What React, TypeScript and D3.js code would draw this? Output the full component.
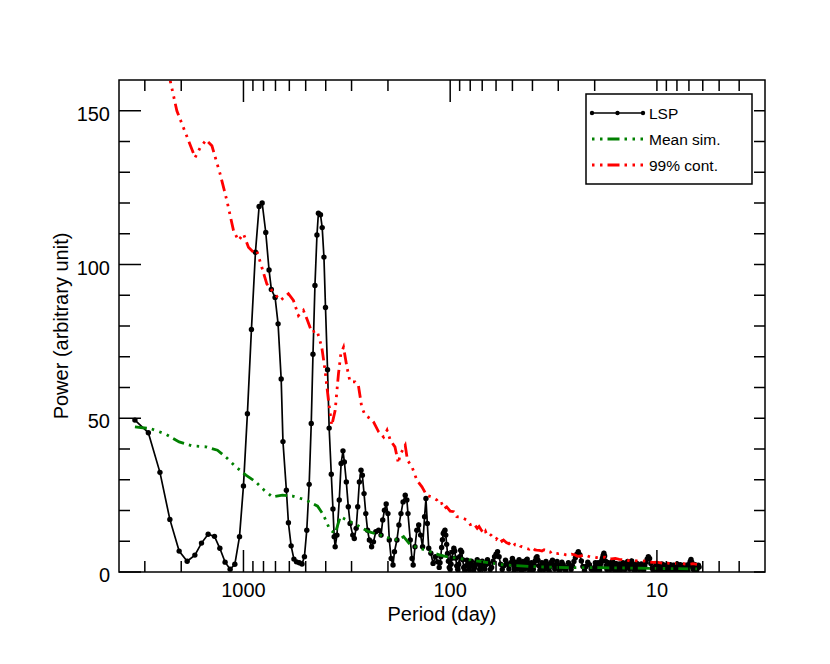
import React, { useEffect, useRef } from 'react';
import * as d3 from 'd3';

// Lomb-Scargle periodogram: [period (day), power]
const lspLong: [number, number][] = [
  [3350, 49.4], [2885, 45.3], [2535, 32.4], [2270, 17.1], [2047, 6.8], [1872, 3.5], [1718, 5.5],
  [1596, 9.4], [1482, 12.3], [1381, 11.6], [1301, 7.7], [1227, 3.2], [1160, 0.9], [1101, 2.5],
  [1045, 11.5], [1000, 28], [957, 51.5], [915, 78.9], [875, 104], [840, 118.9], [812, 120],
  [780, 110.4], [752, 98.2], [733, 91.9], [703, 89.3], [680, 80.7], [657, 62.8], [644, 42.4],
  [620, 26.6], [606, 16], [588, 8.5], [570, 4.2], [554, 3.3], [537, 3.0], [521, 2.6], [507, 5],
  [494, 13.6], [481, 28.5], [470, 48.3], [461, 70.8], [451, 93.2], [441, 109.6], [434, 116.7],
  [424, 116.2], [416, 112], [408, 102.4], [401, 86], [392, 65.8], [385, 46.8], [376, 31.8],
  [369, 20.5], [364, 11.5], [360, 8.2], [353, 12], [344, 23.4], [337, 35.3], [330, 39.4],
  [325, 35.8], [318, 29.3], [311, 21.2], [305, 15.8], [296, 12], [291, 10.9], [285, 14.2],
  [280, 21.2], [275, 29.3], [270, 33.1], [266, 31.5], [261, 25.5], [256, 19], [251, 13.6],
  [246, 10.4], [240, 8.2], [235, 9.8], [229, 13.1], [222, 13.6], [216, 12], [212, 16.9],
  [208, 20.1], [204, 22.1], [200, 19], [197, 10.4], [193, 4.4], [189, 2.3], [186, 6.6],
  [181, 10.4], [177, 15.3], [173, 19], [169, 22.8], [165, 25], [162, 23.4], [160, 19],
  [156, 10.4], [153, 4.4], [151, 2.3], [148, 8.2], [145, 13.6], [142, 15.3], [139, 12],
  [136, 8.2], [133, 18], [131, 23.9], [129, 15.8], [127, 7.7], [124, 6.1], [121, 2.8],
  [118, 5], [115, 3.3],
];

// the dense, noisy short-period part of the periodogram
const lspShort: [number, number][] = [
  [113, 1.5], [112, 3.0], [111, 5.0], [110, 8.0], [109, 10.5], [108, 12.5], [107, 13.0],
  [106, 13.6], [105, 12.0], [104, 9.0], [103, 6.0], [102, 3.5], [101, 1.5], [100, 0.8],
  [99, 2.5], [98, 4.5], [97, 6.5], [96, 7.7], [95, 6.8], [94, 4.5], [93, 2.0], [92, 0.8],
  [91, 2.5], [90, 5.0], [89, 7.1], [88, 6.5], [87, 4.0], [86, 1.5], [85, 0.5], [84, 2.0],
  [83, 3.8], [82, 2.5], [81, 0.8], [80, 1.8], [79, 3.5], [78, 2.2], [77, 0.5], [76, 1.5],
  [75, 3.0], [74, 4.0], [73, 2.5], [72, 0.8], [71, 1.8], [70, 3.5], [69, 2.6], [68, 1.0],
  [67, 2.4], [66, 4.0], [65, 2.8], [64, 0.8], [63, 1.5], [62, 3.5], [61, 5.0], [60, 5.8],
  [59, 6.6], [58, 5.0], [57, 2.5], [56, 0.8], [55, 2.0], [54, 3.8], [53, 2.5], [52, 1.0],
  [51, 3.0], [50, 4.4],
  [49.6, 3.5], [49.2, 2.0], [48.8, 0.8], [48.4, 1.8], [48.0, 3.2], [47.6, 2.4], [47.2, 1.0],
  [46.8, 2.6], [46.4, 4.0], [46.0, 3.0], [45.6, 1.5], [45.2, 0.5], [44.8, 1.8], [44.4, 3.4],
  [44.0, 2.6], [43.6, 1.0], [43.2, 2.2], [42.8, 3.8], [42.4, 4.2], [42.0, 3.0], [41.6, 1.2],
  [41.2, 0.4], [40.8, 1.6], [40.4, 3.0], [40.0, 2.0], [39.6, 0.8], [39.2, 2.2], [38.8, 3.6],
  [38.4, 4.6], [38.0, 5.0], [37.6, 3.8], [37.2, 2.0], [36.8, 0.6], [36.4, 1.6], [36.0, 3.0],
  [35.6, 2.2], [35.2, 0.8], [34.8, 2.0], [34.4, 3.4], [34.0, 2.6], [33.6, 1.0], [33.2, 0.4],
  [32.8, 1.8], [32.4, 3.2], [32.0, 3.8], [31.6, 2.4], [31.2, 1.0], [30.8, 2.2], [30.4, 3.4],
  [30.0, 2.2], [29.6, 0.6], [29.2, 1.8], [28.8, 3.2], [28.4, 2.4], [28.0, 1.0], [27.6, 0.4],
  [27.2, 1.6], [26.8, 3.0], [26.4, 2.2], [26.0, 0.8], [25.6, 2.0], [25.2, 3.4], [24.8, 4.6],
  [24.4, 5.8], [24.0, 6.6], [23.6, 5.6], [23.2, 3.6], [22.8, 1.8], [22.4, 0.6], [22.0, 1.8],
  [21.6, 3.2], [21.2, 2.4], [20.8, 1.0], [20.4, 0.4], [20.0, 1.6],
  [19.85, 3.0], [19.7, 2.2], [19.55, 0.8], [19.4, 1.8], [19.25, 3.0], [19.1, 2.0], [18.95, 0.6],
  [18.8, 1.6], [18.65, 2.8], [18.5, 3.6], [18.35, 4.5], [18.2, 5.4], [18.05, 6.1], [17.9, 5.2],
  [17.75, 3.6], [17.6, 2.0], [17.45, 0.8], [17.3, 1.8], [17.15, 3.0], [17.0, 2.2], [16.85, 0.8],
  [16.7, 1.6], [16.55, 2.8], [16.4, 3.4], [16.25, 2.2], [16.1, 0.8], [15.95, 1.8], [15.8, 2.8],
  [15.65, 1.6], [15.5, 0.4], [15.35, 1.4], [15.2, 2.6], [15.05, 2.0], [14.9, 0.8], [14.75, 1.8],
  [14.6, 3.0], [14.45, 2.2], [14.3, 0.8], [14.15, 1.6], [14.0, 2.8], [13.85, 3.4], [13.7, 2.4],
  [13.55, 1.0], [13.4, 2.0], [13.25, 3.6], [13.1, 2.6], [12.95, 1.0], [12.8, 0.4], [12.65, 1.6],
  [12.5, 2.8], [12.35, 2.0], [12.2, 0.8], [12.05, 1.8], [11.9, 2.6], [11.75, 1.4], [11.6, 0.6],
  [11.45, 2.0], [11.3, 3.2], [11.15, 4.2], [11.0, 5.0], [10.85, 4.4], [10.7, 2.8], [10.55, 1.2],
  [10.4, 0.5], [10.25, 1.6], [10.1, 2.6],
  [9.95, 1.8], [9.88, 0.6], [9.81, 1.4], [9.74, 2.4], [9.67, 1.8], [9.6, 0.6], [9.53, 1.6],
  [9.46, 2.6], [9.39, 1.6], [9.32, 0.5], [9.25, 1.4], [9.18, 2.2], [9.11, 1.4], [9.04, 0.4],
  [8.97, 1.2], [8.9, 2.2], [8.83, 1.6], [8.76, 0.6], [8.69, 1.6], [8.62, 2.4], [8.55, 1.8],
  [8.48, 0.6], [8.41, 1.4], [8.34, 2.2], [8.27, 1.4], [8.2, 0.4], [8.13, 1.2], [8.06, 2.0],
  [7.99, 2.6], [7.92, 1.6], [7.85, 0.6], [7.78, 1.4], [7.71, 2.4], [7.64, 1.6], [7.57, 0.6],
  [7.5, 1.4], [7.44, 2.2], [7.38, 1.6], [7.32, 0.6], [7.26, 1.4], [7.2, 2.2], [7.14, 1.4],
  [7.08, 0.5], [7.02, 1.6], [6.96, 2.6], [6.9, 3.4], [6.84, 4.1], [6.78, 3.2], [6.72, 2.0],
  [6.66, 0.8], [6.6, 1.6], [6.54, 2.4], [6.48, 1.4], [6.42, 0.5], [6.36, 1.4], [6.3, 2.2],
  [6.25, 1.6],
];

// mean of the simulations
const meanSim: [number, number][] = [
  [3350, 47.2], [2805, 46.6], [2373, 44.8], [2047, 42.3], [1765, 41], [1520, 40.7],
  [1336, 39.6], [1195, 36.9], [1088, 34.2], [973, 31.5], [871, 29.3], [794, 26.6],
  [724, 24.4], [648, 25], [579, 24.7], [499, 23.4], [438, 21.4], [410, 18.5], [381, 13.6],
  [360, 12.6], [340, 18], [316, 16.9], [283, 15.3], [248, 13.1], [218, 12], [195, 10.9],
  [178, 10.4], [168, 11.5], [156, 8.8], [140, 7.7], [125, 6.6], [112, 5.5], [104, 5],
  [80, 3.9], [55, 2.3], [38, 1.7], [27, 1.4], [18.8, 1.4], [10.8, 1.2], [6.4, 1.0],
];

// 99% contour of the simulations
const cont99: [number, number][] = [
  [2600, 178], [2265, 160], [2100, 150], [1845, 140.3], [1713, 134.8], [1620, 138],
  [1514, 140.5], [1421, 138.6], [1296, 129.4], [1203, 120.8], [1117, 111], [1057, 107.8],
  [1000, 110], [946, 105.6], [895, 104], [862, 104.5], [815, 99.1], [771, 93.7], [729, 91.6],
  [664, 88.3], [606, 90.5], [573, 88.3], [542, 83.4], [513, 85.1], [494, 82.4], [467, 78],
  [441, 78.6], [418, 73.1], [403, 65.6], [388, 55.8], [374, 47.7], [360, 52.6], [347, 64.5],
  [338, 71], [328, 73.1], [316, 66.7], [305, 61.8], [288, 61.8], [278, 60.7], [268, 53.7],
  [258, 51], [244, 49.9], [235, 48.8], [222, 45.6], [210, 43.9], [202, 46.1], [195, 42.9],
  [185, 40.7], [178, 35.3], [175, 38], [165, 41.2], [161, 36.4], [153, 34.2], [145, 29.9],
  [137, 27.7], [130, 25], [123, 24.4], [116, 23.4], [113, 22.0], [110, 22.3], [107, 20.6],
  [104, 21.2], [100, 19.8], [96, 19.6], [93, 18.0], [89.5, 17.9], [86, 17.4], [83, 16.9],
  [80, 15.4], [77, 15.8], [74, 14.2], [72.5, 14.8], [71, 13.8], [68.5, 12.4], [67.5, 13.2],
  [66.4, 12.0], [64.5, 12.4], [63, 11.8], [61.5, 11.0], [60, 10.6], [58.8, 11.4], [57.5, 11.0],
  [56.2, 10.0], [55.2, 10.4], [53.5, 9.6], [52, 9.2], [50.8, 9.9], [49.5, 9.6], [48.5, 8.8],
  [47.5, 8.6], [46.5, 9.0], [45.8, 8.4], [44.6, 8.1], [43.5, 8.0], [42.5, 7.6], [41.5, 7.4],
  [40.6, 7.9], [39.8, 7.8], [38.9, 7.2], [38.1, 7.1], [37, 7.0], [36, 6.8], [35.1, 7.2],
  [34.2, 7.0], [33.5, 6.5], [32.8, 6.4], [32.2, 6.8], [31.6, 6.6], [30.8, 6.1], [30, 6.0],
  [29.2, 6.2], [28.4, 5.9], [27.6, 5.6], [26.8, 5.5], [25.9, 5.8], [25, 5.6], [24.2, 5.1],
  [23.4, 5.2], [22.6, 5.5], [21.8, 5.3], [21, 4.9], [20.3, 5.0], [19.6, 4.7], [19, 4.6],
  [18.4, 4.9], [17.8, 4.8], [17.2, 4.4], [16.6, 4.3], [15.9, 4.4], [15.2, 4.1], [14.6, 4.0],
  [14, 3.9], [13.5, 3.6], [13, 3.8], [12.5, 3.6], [12.1, 3.4], [11.7, 3.6], [11.3, 3.5],
  [10.8, 3.2], [10.4, 3.1], [10, 3.2], [9.6, 3.0], [9.2, 2.8], [8.9, 2.9], [8.5, 2.7],
  [8.2, 2.7], [7.9, 2.9], [7.6, 2.8], [7.3, 2.6], [7.0, 2.5], [6.7, 2.7], [6.4, 2.5],
];

const xMajorTicks = [1000, 100, 10];
const xMinorTicks = [
  3000, 2000, 900, 800, 700, 600, 500, 400, 300, 200,
  90, 80, 70, 60, 50, 40, 30, 20, 9, 8, 7, 6, 5, 4,
];
const yMajorTicks = [0, 50, 100, 150];
const yMinorTicks = [10, 20, 30, 40, 60, 70, 80, 90, 110, 120, 130, 140];

const legendLabels = ['LSP', 'Mean sim.', '99% cont.'];

const App: React.FC = () => {
  const svgRef = useRef<SVGSVGElement>(null);

  useEffect(() => {
    if (!svgRef.current) return;
    const svg = d3.select(svgRef.current);
    svg.selectAll('*').remove();

    const left = 119, right = 765, top = 80, bottom = 572;
    const font = "'Liberation Sans', Arial, Helvetica, sans-serif";
    const dash = '12 5 2.5 5.5 2.5 5.5 2.5 5';

    const x = d3.scaleLog().domain([4000, 3]).range([left, right]);
    const y = d3.scaleLinear().domain([0, 160]).range([bottom, top]);

    const lsp = lspLong.concat(lspShort);

    svg.append('defs').append('clipPath').attr('id', 'plot-clip')
      .append('rect')
      .attr('x', left).attr('y', top)
      .attr('width', right - left).attr('height', bottom - top);

    const line = d3.line<[number, number]>()
      .x(d => x(d[0]))
      .y(d => y(d[1]));

    const plot = svg.append('g').attr('clip-path', 'url(#plot-clip)');

    // LSP
    plot.append('path')
      .attr('d', line(lsp) || '')
      .attr('fill', 'none')
      .attr('stroke', '#000')
      .attr('stroke-width', 1.7);
    plot.selectAll('circle.lsp')
      .data(lsp)
      .enter().append('circle')
      .attr('class', 'lsp')
      .attr('cx', d => x(d[0]))
      .attr('cy', d => y(d[1]))
      .attr('r', 2.7)
      .attr('fill', '#000');

    // Mean sim.
    plot.append('path')
      .attr('d', line(meanSim) || '')
      .attr('fill', 'none')
      .attr('stroke', '#008000')
      .attr('stroke-width', 2.8)
      .attr('stroke-dasharray', dash);

    // 99% cont.
    plot.append('path')
      .attr('d', line(cont99) || '')
      .attr('fill', 'none')
      .attr('stroke', '#ff0000')
      .attr('stroke-width', 2.8)
      .attr('stroke-dasharray', dash);

    // frame
    const axes = svg.append('g').attr('stroke', '#000').attr('stroke-width', 1.5);
    axes.append('rect')
      .attr('x', left).attr('y', top)
      .attr('width', right - left).attr('height', bottom - top)
      .attr('fill', 'none');

    // x ticks (bottom and top)
    xMajorTicks.forEach(t => {
      axes.append('line').attr('x1', x(t)).attr('x2', x(t)).attr('y1', bottom).attr('y2', bottom - 22);
      const len = t === 10 ? 11 : 22;
      axes.append('line').attr('x1', x(t)).attr('x2', x(t)).attr('y1', top).attr('y2', top + len);
    });
    xMinorTicks.forEach(t => {
      axes.append('line').attr('x1', x(t)).attr('x2', x(t)).attr('y1', bottom).attr('y2', bottom - 11);
      axes.append('line').attr('x1', x(t)).attr('x2', x(t)).attr('y1', top).attr('y2', top + 11);
    });

    // y ticks (left and right)
    yMajorTicks.forEach(t => {
      axes.append('line').attr('x1', left).attr('x2', left + 22).attr('y1', y(t)).attr('y2', y(t));
      axes.append('line').attr('x1', right).attr('x2', right - 11).attr('y1', y(t)).attr('y2', y(t));
    });
    yMinorTicks.forEach(t => {
      axes.append('line').attr('x1', left).attr('x2', left + 11).attr('y1', y(t)).attr('y2', y(t));
      axes.append('line').attr('x1', right).attr('x2', right - 11).attr('y1', y(t)).attr('y2', y(t));
    });

    // tick labels
    svg.selectAll('text.xt')
      .data(xMajorTicks)
      .enter().append('text')
      .attr('class', 'xt')
      .attr('x', d => x(d))
      .attr('y', bottom + 25)
      .attr('text-anchor', 'middle')
      .style('font-family', font)
      .style('font-size', '20px')
      .text(d => String(d));

    svg.selectAll('text.yt')
      .data(yMajorTicks)
      .enter().append('text')
      .attr('class', 'yt')
      .attr('x', left - 9)
      .attr('y', d => y(d) + 10)
      .attr('text-anchor', 'end')
      .style('font-family', font)
      .style('font-size', '20px')
      .text(d => String(d));

    // axis titles
    svg.append('text')
      .attr('x', (left + right) / 2)
      .attr('y', 621)
      .attr('text-anchor', 'middle')
      .style('font-family', font)
      .style('font-size', '20px')
      .text('Period (day)');

    svg.append('text')
      .attr('transform', `translate(68, ${(top + bottom) / 2}) rotate(-90)`)
      .attr('text-anchor', 'middle')
      .style('font-family', font)
      .style('font-size', '20px')
      .text('Power (arbitrary unit)');

    // legend
    const lg = svg.append('g');
    lg.append('rect')
      .attr('x', 586).attr('y', 94)
      .attr('width', 166).attr('height', 90)
      .attr('fill', '#fff')
      .attr('stroke', '#000')
      .attr('stroke-width', 1.5);

    const rowY = [113, 139, 165];
    const x0 = 592, x1 = 643;
    lg.append('line')
      .attr('x1', x0).attr('x2', x1).attr('y1', rowY[0]).attr('y2', rowY[0])
      .attr('stroke', '#000').attr('stroke-width', 1.6);
    [x0, (x0 + x1) / 2, x1].forEach(cx => {
      lg.append('circle').attr('cx', cx).attr('cy', rowY[0]).attr('r', 2.2).attr('fill', '#000');
    });
    ['#008000', '#ff0000'].forEach((c, i) => {
      lg.append('line')
        .attr('x1', x0).attr('x2', x1).attr('y1', rowY[i + 1]).attr('y2', rowY[i + 1])
        .attr('stroke', c).attr('stroke-width', 2.8)
        .attr('stroke-dasharray', dash)
        .attr('stroke-dashoffset', 25);
    });
    legendLabels.forEach((label, i) => {
      lg.append('text')
        .attr('x', 649)
        .attr('y', rowY[i] + 6)
        .style('font-family', font)
        .style('font-size', '15.5px')
        .text(label);
    });
  }, []);

  return (
    <svg
      ref={svgRef}
      width={830}
      height={664}
      style={{ position: 'absolute', left: 0, top: 0, background: '#fff' }}
    />
  );
};

export default App;
